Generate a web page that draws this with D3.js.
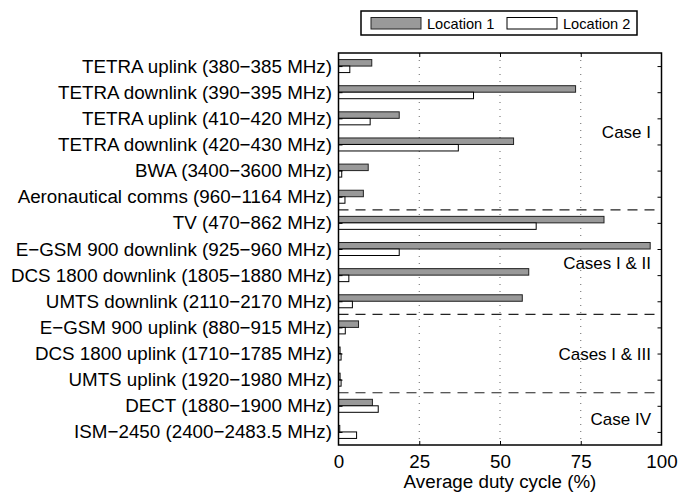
<!DOCTYPE html>
<html><head><meta charset="utf-8">
<script src="https://cdn.jsdelivr.net/npm/d3@7"></script>
<style>
body{margin:0;background:#fff;}
text{font-family:"Liberation Sans",Arial,Helvetica,sans-serif;fill:#000;}
</style></head>
<body><svg id="c" width="694" height="492"></svg>
<script>
const categories = [
 "TETRA uplink (380\u2212385 MHz)",
 "TETRA downlink (390\u2212395 MHz)",
 "TETRA uplink (410\u2212420 MHz)",
 "TETRA downlink (420\u2212430 MHz)",
 "BWA (3400\u22123600 MHz)",
 "Aeronautical comms (960\u22121164 MHz)",
 "TV (470\u2212862 MHz)",
 "E\u2212GSM 900 downlink (925\u2212960 MHz)",
 "DCS 1800 downlink (1805\u22121880 MHz)",
 "UMTS downlink (2110\u22122170 MHz)",
 "E\u2212GSM 900 uplink (880\u2212915 MHz)",
 "DCS 1800 uplink (1710\u22121785 MHz)",
 "UMTS uplink (1920\u22121980 MHz)",
 "DECT (1880\u22121900 MHz)",
 "ISM\u22122450 (2400\u22122483.5 MHz)"
];
const location1 = [10.3, 73.4, 18.8, 54.2, 9.2, 7.7, 82.2, 96.5, 58.9, 56.9, 6.2, 0.5, 0.5, 10.5, 0.4];
const location2 = [3.5, 41.8, 9.8, 37.1, 1.0, 2.0, 61.2, 18.8, 3.2, 4.3, 2.1, 0.8, 0.8, 12.3, 5.6];
const seriesNames = ["Location 1", "Location 2"];
const xTicks = [0, 25, 50, 75, 100];
const groups = [
 {label: "Case I", from: 0, to: 5},
 {label: "Cases I & II", from: 6, to: 9},
 {label: "Cases I & III", from: 10, to: 12},
 {label: "Case IV", from: 13, to: 14}
];
const separatorsAfter = [5, 9, 12];

const svg = d3.select("#c");
const L = 338.5, R = 661.5, T = 53, B = 445;
const x = d3.scaleLinear().domain([0, 100]).range([L, R]);
const y = d3.scaleBand().domain(d3.range(categories.length)).range([T, B]).padding(0);
const bh = 6.5;
const fs = 18.8;
const fsCase = 17;

// grid
svg.append("g").selectAll("line").data(xTicks.slice(1, -1)).join("line")
  .attr("x1", d => x(d)).attr("x2", d => x(d)).attr("y1", T).attr("y2", B)
  .attr("stroke", "#000").attr("stroke-width", 1).attr("stroke-dasharray", "1,6").attr("opacity", 0.6);

// bars
const gb = svg.append("g");
gb.selectAll("rect.l1").data(location1).join("rect").attr("class", "l1")
  .attr("x", x(0)).attr("width", d => x(d) - x(0))
  .attr("y", (d, i) => y(i) + y.bandwidth() / 2 - bh).attr("height", bh)
  .attr("fill", "#999").attr("stroke", "#222").attr("stroke-width", 1);
gb.selectAll("rect.l2").data(location2).join("rect").attr("class", "l2")
  .attr("x", x(0)).attr("width", d => x(d) - x(0))
  .attr("y", (d, i) => y(i) + y.bandwidth() / 2).attr("height", bh)
  .attr("fill", "#fff").attr("stroke", "#000").attr("stroke-width", 1);

// separators
svg.append("g").selectAll("line").data(separatorsAfter).join("line")
  .attr("x1", L).attr("x2", R)
  .attr("y1", d => y(d) + y.bandwidth()).attr("y2", d => y(d) + y.bandwidth())
  .attr("stroke", "#222").attr("stroke-width", 1.2).attr("stroke-dasharray", "10,7");

// axes
const xb = svg.append("g").attr("transform", `translate(0,${B})`)
  .call(d3.axisBottom(x).tickValues(xTicks).tickSize(-4).tickPadding(10).tickFormat(d3.format("d")));
const xt = svg.append("g").attr("transform", `translate(0,${T})`)
  .call(d3.axisTop(x).tickValues(xTicks).tickSize(-4).tickFormat(""));
const yScalePts = d3.scalePoint().domain(d3.range(categories.length)).range([y(0) + y.bandwidth()/2, y(categories.length-1) + y.bandwidth()/2]);
const yl = svg.append("g").attr("transform", `translate(${L},0)`)
  .call(d3.axisLeft(yScalePts).tickSize(-4).tickPadding(6.5).tickFormat(i => categories[i]));
const yr = svg.append("g").attr("transform", `translate(${R},0)`)
  .call(d3.axisRight(yScalePts).tickSize(-4).tickFormat(""));
[xb, xt, yl, yr].forEach(g => {
  g.select(".domain").remove();
  g.selectAll(".tick line").attr("stroke", "#000").attr("stroke-width", 1);
  g.selectAll("text").style("font-size", fs + "px").attr("fill", "#000");
});
xb.selectAll(".tick").filter(d => d === 0 || d === 100).select("line").remove();
xt.selectAll(".tick").filter(d => d === 0 || d === 100).select("line").remove();

// frame
svg.append("rect").attr("x", L).attr("y", T).attr("width", R - L).attr("height", B - T)
  .attr("fill", "none").attr("stroke", "#000").attr("stroke-width", 1.5);

// group labels
svg.append("g").selectAll("text").data(groups).join("text")
  .attr("x", 651).attr("text-anchor", "end").attr("dominant-baseline", "central")
  .attr("y", d => (y(d.from) + y(d.to) + y.bandwidth()) / 2 + 1)
  .style("font-size", fsCase + "px").text(d => d.label);

// x label
svg.append("text").attr("x", (L + R) / 2).attr("y", 488).attr("text-anchor", "middle")
  .style("font-size", fs + "px").text("Average duty cycle (%)");

// legend
const lg = svg.append("g");
lg.append("rect").attr("x", 361).attr("y", 11).attr("width", 276).attr("height", 24)
  .attr("fill", "#fff").attr("stroke", "#000").attr("stroke-width", 1.5);
const lx = [371, 507];
lg.selectAll("rect.sw").data(seriesNames).join("rect").attr("class", "sw")
  .attr("x", (d, i) => lx[i]).attr("y", 17.5).attr("width", 50).attr("height", 11.5)
  .attr("fill", (d, i) => i === 0 ? "#999" : "#fff").attr("stroke", (d, i) => i === 0 ? "#222" : "#000").attr("stroke-width", 1);
lg.selectAll("text").data(seriesNames).join("text")
  .attr("x", (d, i) => lx[i] + 56).attr("y", 28.5)
  .style("font-size", "14.6px").text(d => d);
</script></body></html>
